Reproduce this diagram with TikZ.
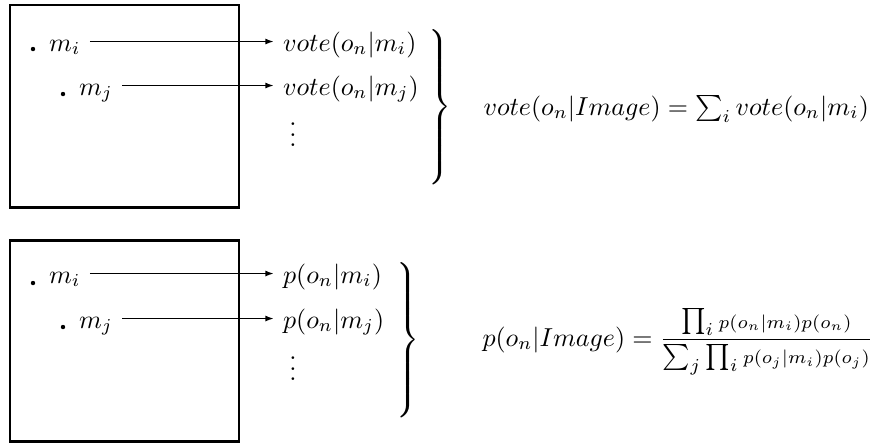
\documentclass[tikz,border=0pt]{standalone}
\usepackage{amsmath,amssymb}
\usetikzlibrary{arrows.meta,positioning,calc}

\begin{document}
\begin{tikzpicture}[x=0.385pt,y=0.385pt,
  frm/.style={draw,line width=1.15pt},
  pt/.style={circle,fill,inner sep=0pt,minimum size=1.7pt},
  lab/.style={anchor=base west,text height=8.5pt,text depth=1.2pt},
  ed/.style={-{Latex[length=3.3pt,width=2.3pt]},line width=0.72pt},
  brc/.style={inner sep=0pt},
  eq/.style={anchor=base west,inner sep=0pt}]
\useasboundingbox (0,0) rectangle (883,443);
% votes
\draw[frm] (10,438) rectangle (239,236);
\node[pt] (dti) at (33,394) {};
\node[pt] (dtj) at (63,349) {};
\node[lab] (mti) at (40,392) {$m_i$};
\node[lab] (mtj) at (70,348) {$m_j$};
\node[lab] (vti) at (274,392) {$vote(o_n|m_i)$};
\node[lab] (vtj) at (274,348) {$vote(o_n|m_j)$};
\node (vdt) at (293,316) {$\vdots$};
\draw[ed] (mti.east) -- (vti.west);
\draw[ed] (mtj.east) -- (vtj.west);
\node[brc] (bt) at (438,336) {$\left.\vcenter{\hrule height 63pt width 0pt}\right\}$};
\node[eq] (ft) at (483,328) {$vote(o_n|Image) = \sum_i vote(o_n|m_i)$};
% probabilities
\draw[frm] (10,203) rectangle (239,2);
\node[pt] (dbi) at (33,160) {};
\node[pt] (dbj) at (63,116) {};
\node[lab] (mbi) at (40,160) {$m_i$};
\node[lab] (mbj) at (70,115) {$m_j$};
\node[lab] (pbi) at (274,160) {$p(o_n|m_i)$};
\node[lab] (pbj) at (274,115) {$p(o_n|m_j)$};
\node (vdb) at (293,82) {$\vdots$};
\draw[ed] (mbi.east) -- (pbi.west);
\draw[ed] (mbj.east) -- (pbj.west);
\node[brc] (bb) at (406,103) {$\left.\vcenter{\hrule height 63pt width 0pt}\right\}$};
\node[eq] (fb) at (482,97) {$p(o_n|Image) = \displaystyle\frac{\prod_i {\scriptstyle p(o_n|m_i)p(o_n)}}{\sum_j \prod_i {\scriptstyle p(o_j|m_i)p(o_j)}}$};
\end{tikzpicture}
\end{document}
